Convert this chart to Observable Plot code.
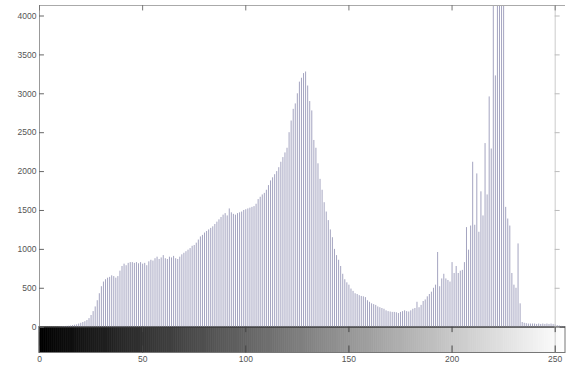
<!DOCTYPE html>
<html><head><meta charset="utf-8">
<script src="https://cdn.jsdelivr.net/npm/d3@7"></script>
<script src="https://cdn.jsdelivr.net/npm/@observablehq/plot@0.6"></script>
<style>body{margin:0;background:#fff;overflow:hidden}</style>
</head><body><div id="chart"></div>
<script>
// Grey-level histogram (imhist style): one count per intensity 0..255
const intensity = d3.range(256);
const counts = [
  0,0,0,0,0,0,0,0,0,0,
  4,6,8,10,12,15,20,25,30,40,
  50,60,70,85,110,150,200,260,340,430,
  520,580,610,630,640,660,650,630,650,720,
  780,810,790,820,830,830,820,830,815,830,
  810,820,790,840,860,850,880,900,870,890,
  920,880,870,900,890,910,880,870,900,930,
  950,970,990,1010,1040,1050,1080,1120,1160,1180,
  1210,1230,1250,1270,1290,1320,1350,1380,1410,1440,
  1460,1430,1520,1470,1450,1440,1460,1470,1480,1500,
  1510,1520,1530,1540,1550,1580,1640,1670,1700,1720,
  1760,1820,1880,1920,1960,2000,2050,2120,2180,2240,
  2300,2500,2650,2800,2870,3000,3150,3200,3260,3280,
  3100,2900,2780,2400,2300,2100,1900,1760,1600,1480,
  1370,1250,1150,1000,920,860,780,680,610,570,
  540,490,460,430,420,405,395,390,380,340,
  320,300,290,280,260,250,240,230,210,200,
  195,190,190,185,175,190,200,210,200,195,
  210,230,240,320,250,280,330,350,390,420,
  450,500,540,960,520,620,680,620,600,580,
  830,690,780,690,720,730,830,1280,990,1300,
  2120,1310,1970,1220,1740,1430,2360,1700,2960,2290,
  4300,3230,4400,4500,4400,4300,1540,1390,1300,690,
  540,500,1070,300,60,50,45,40,40,40,
  40,35,40,35,40,35,40,35,40,35,
  30,20,15,10,5,0
];
const yTicks = [0, 500, 1000, 1500, 2000, 2500, 3000, 3500, 4000];
const xTicks = [0, 50, 100, 150, 200, 250];
const yTop = 4135;      // upper y limit of the histogram axes
const barBottom = -332; // depth of the grey-level colour bar below zero

const hist = intensity.map((v, i) => ({v, c: counts[i]}));
const levels = d3.range(255);
const grey = d => `rgb(${d},${d},${d})`;

const chart = Plot.plot({
  width: 568, height: 369,
  marginLeft: 39, marginRight: 3, marginTop: 5, marginBottom: 16.5,
  x: {domain: [0, 255], axis: null},
  y: {domain: [barBottom, yTop], axis: null},
  style: {fontFamily: "'Liberation Sans', Arial, sans-serif", fontSize: "8.5px", color: "#555", background: "#fff"},
  marks: [
    Plot.rect(levels, {x1: d => d, x2: d => d + 1, y1: barBottom, y2: 0, fill: grey, stroke: grey, strokeWidth: 0.6}),
    Plot.rect([0], {x1: 0, x2: 255, y1: barBottom, y2: 0, stroke: "#777", fill: "none"}),
    Plot.ruleX(hist, {x: "v", y1: 0, y2: "c", stroke: "#a4a4c0", strokeWidth: 1, clip: true}),
    Plot.ruleY([0], {stroke: "#333"}),
    Plot.ruleY([yTop], {stroke: "#aaa"}),
    Plot.ruleX([0], {y1: 0, y2: yTop, stroke: "#999"}),
    Plot.ruleX([250], {y1: barBottom, y2: yTop, stroke: "#ccc"}),
    Plot.ruleY(yTicks, {x1: 0, x2: 2.4, stroke: "#666"}),
    Plot.ruleY(yTicks, {x1: 250, x2: 252.4, stroke: "#bbb"}),
    Plot.ruleX(xTicks, {y1: yTop, y2: yTop - 70, stroke: "#777"}),
    Plot.ruleX(xTicks, {y1: 0, y2: -70, stroke: "#444"}),
    Plot.ruleX(xTicks, {y1: barBottom, y2: barBottom + 90, stroke: "#444"}),
    Plot.axisY(yTicks, {anchor: "left", tickSize: 0, tickPadding: 3, fill: "#555", label: null, tickFormat: d => String(d)}),
    Plot.axisX(xTicks, {anchor: "bottom", tickSize: 0, tickPadding: 3, fill: "#555", label: null, tickFormat: d => String(d)})
  ]
});
document.getElementById("chart").appendChild(chart);
</script>
</body></html>
